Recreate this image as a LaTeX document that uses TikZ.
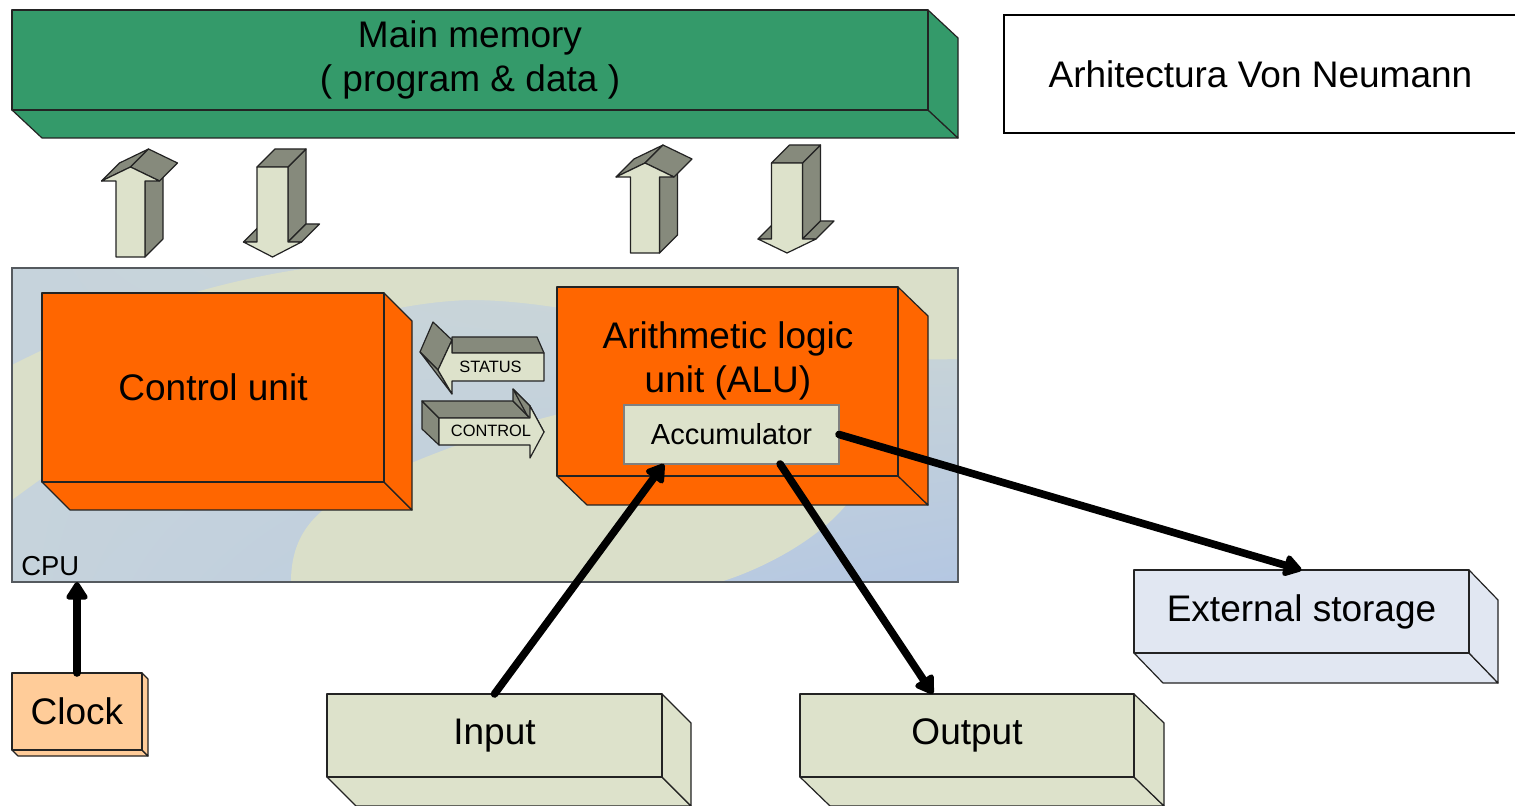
\documentclass[tikz,border=0pt]{standalone}
\usepackage{fontspec}
\setmainfont{Liberation Sans}
\usetikzlibrary{arrows.meta,calc,shadings}

\definecolor{memgreen}{RGB}{52,154,106}
\definecolor{unitorange}{RGB}{255,102,0}
\definecolor{paleolive}{RGB}{221,226,203}
\definecolor{shadegrey}{RGB}{134,138,124}
\definecolor{storeblue}{RGB}{225,231,242}
\definecolor{clockpeach}{RGB}{255,204,153}
\definecolor{cpublue}{RGB}{198,211,220}
\definecolor{cpucream}{RGB}{218,223,201}
\definecolor{cpudeep}{RGB}{180,199,226}
\definecolor{edgegrey}{RGB}{35,35,35}
\definecolor{framegrey}{RGB}{85,90,95}

\newcommand\mainlabelfont{\fontsize{18.5}{22}\selectfont}
\newcommand\accufont{\fontsize{14.5}{17}\selectfont}
\newcommand\tagfont{\fontsize{8.2}{10}\selectfont}
\newcommand\cpufont{\fontsize{13.7}{16}\selectfont}

\tikzset{
  face/.style={draw=edgegrey, line width=0.6pt, line join=round},
  bus/.style={line width=3.8pt, line cap=round,
    -{Triangle[length=10pt,width=12pt,round]}},
}

% a box drawn as a block: bottom face, right face, then the front face node
% #1 name, #2 x1, #3 y1, #4 x2, #5 y2, #6 dx, #7 dy, #8 fill, #9 text
\newcommand\solidblock[9]{%
  \filldraw[face, fill=#8] (#2,#5) -- ({#2+#6},{#5+#7}) -- ({#4+#6},{#5+#7}) -- (#4,#5) -- cycle;
  \filldraw[face, fill=#8] (#4,#3) -- ({#4+#6},{#3+#7}) -- ({#4+#6},{#5+#7}) -- (#4,#5) -- cycle;
  \pgfmathsetmacro\blockw{(#4-#2)*0.5}%
  \pgfmathsetmacro\blockh{(#5-#3)*0.5}%
  \node[face, fill=#8, anchor=north west, minimum width=\blockw pt,
        minimum height=\blockh pt, inner sep=0pt, outer sep=0pt,
        align=center, font=\mainlabelfont] (#1) at (#2,#3) {#9};
}

% upward block arrow: #1 centre x, #2 foot y, #3 head base y, #4 tip y
\newcommand\upblockarrow[4]{%
  \filldraw[face, fill=shadegrey] ({#1+14.5},#3) -- ({#1+14.5},#2) -- ({#1+32.5},{#2-18}) -- ({#1+32.5},{#3-18}) -- cycle;
  \filldraw[face, fill=shadegrey] ({#1-29},#3) -- ({#1-11},{#3-18}) -- ({#1+18},{#4-18}) -- (#1,#4) -- cycle;
  \filldraw[face, fill=shadegrey] (#1,#4) -- ({#1+18},{#4-18}) -- ({#1+47},{#3-18}) -- ({#1+29},#3) -- cycle;
  \filldraw[face, fill=paleolive] ({#1-14.5},#2) -- ({#1+14.5},#2) -- ({#1+14.5},#3) -- ({#1+29},#3)
     -- (#1,#4) -- ({#1-29},#3) -- ({#1-14.5},#3) -- cycle;
}

% downward block arrow: #1 centre x, #2 top y, #3 head base y, #4 tip y
\newcommand\downblockarrow[4]{%
  \filldraw[face, fill=shadegrey] ({#1+15.5},#2) -- ({#1+33.5},{#2-18}) -- ({#1+33.5},{#3-18}) -- ({#1+15.5},#3) -- cycle;
  \filldraw[face, fill=shadegrey] ({#1+15.5},#3) -- ({#1+29},#3) -- ({#1+47},{#3-18}) -- ({#1+33.5},{#3-18}) -- cycle;
  \filldraw[face, fill=shadegrey] ({#1-29},#3) -- ({#1-15.5},#3) -- ({#1+2.5},{#3-18}) -- ({#1-11},{#3-18}) -- cycle;
  \filldraw[face, fill=shadegrey] ({#1-15.5},#2) -- ({#1+2.5},{#2-18}) -- ({#1+33.5},{#2-18}) -- ({#1+15.5},#2) -- cycle;
  \filldraw[face, fill=paleolive] ({#1-15.5},#2) -- ({#1+15.5},#2) -- ({#1+15.5},#3) -- ({#1+29},#3)
     -- (#1,#4) -- ({#1-29},#3) -- ({#1-15.5},#3) -- cycle;
}

\begin{document}
\begin{tikzpicture}[x=0.5pt, y=-0.5pt]
\useasboundingbox (0,0) rectangle (1515,806);
\fill[white] (0,0) rectangle (1515,806);

% CPU backdrop with its soft two-tone pattern
\begin{scope}
  \clip (12,268) rectangle (958,582);
  \shade[upper left=cpublue, upper right=cpublue!60!cpucream,
         lower left=cpublue, lower right=cpudeep] (12,268) rectangle (958,582);
  \fill[cpucream] (12,365) .. controls (110,315) and (210,282) .. (309,268)
     -- (958,268) -- (958,359) .. controls (760,365) and (600,300) .. (470,300)
     .. controls (300,305) and (120,420) .. (12,500) -- cycle;
  \fill[cpucream] (291,582) .. controls (291,540) and (310,515) .. (345,495)
     .. controls (410,458) and (520,420) .. (600,405)
     .. controls (800,370) and (900,430) .. (850,500)
     .. controls (820,540) and (760,570) .. (720,582) -- cycle;
\end{scope}
\node[draw=framegrey, line width=0.8pt, anchor=north west, minimum width=473pt,
      minimum height=157pt, inner sep=0pt, outer sep=0pt] (cpu) at (12,268) {};
\node[font=\cpufont, anchor=base west, inner sep=0pt] (cpulabel) at (21,575) {CPU};

% processor parts
\solidblock{control}{42}{293}{384}{482}{28}{28}{unitorange}{Control unit}
\solidblock{alu}{557}{287}{898}{476}{30}{29}{unitorange}{}
\node[font=\mainlabelfont, align=center, inner sep=0pt] (alutitle) at (728,361)
  {Arithmetic logic\\unit (ALU)};
\node[draw=gray, line width=0.6pt, fill=paleolive, minimum width=107.5pt,
      minimum height=29.5pt, inner sep=0pt, outer sep=0pt, font=\accufont]
  (acc) at (731.5,434.5) {Accumulator};

% STATUS arrow (pointing left)
\filldraw[face, fill=shadegrey] (452,337) -- (537,337) -- (544,353) -- (452,353) -- cycle;
\filldraw[face, fill=shadegrey] (433,322) -- (452,340) -- (438,370) -- (420,352) -- cycle;
\filldraw[face, fill=shadegrey] (420,352) -- (438,370) -- (452,394) -- cycle;
\filldraw[face, fill=paleolive] (452,340) -- (452,353) -- (544,353) -- (544,381)
   -- (452,381) -- (452,394) -- (438,370) -- cycle;
\node[font=\tagfont, inner sep=0pt] (statustag) at (490.5,367) {STATUS};

% CONTROL arrow (pointing right)
\filldraw[face, fill=shadegrey] (422,401) -- (439,418) -- (439,445) -- (422,429) -- cycle;
\filldraw[face, fill=shadegrey] (422,401) -- (513,401) -- (530,418) -- (439,418) -- cycle;
\filldraw[face, fill=shadegrey] (513,389) -- (530,406) -- (530,418) -- (513,401) -- cycle;
\filldraw[face, fill=shadegrey] (513,389) -- (530,406) -- (544,432) -- (527,415) -- cycle;
\filldraw[face, fill=paleolive] (439,418) -- (530,418) -- (530,406) -- (544,432)
   -- (530,458) -- (530,445) -- (439,445) -- cycle;
\node[font=\tagfont, inner sep=0pt] (controltag) at (491,431) {CONTROL};

% memory and the buses to it
\solidblock{memory}{12}{10}{928}{110}{30}{28}{memgreen}{Main memory\\( program \& data )}
\upblockarrow{130.5}{257}{181}{167}
\downblockarrow{272.5}{167}{242}{257}
\upblockarrow{645}{253}{177}{163}
\downblockarrow{787}{163}{239}{253}

% heading
\node[draw=black, line width=0.6pt, fill=white, minimum width=256.5pt,
      minimum height=59pt, inner sep=0pt, font=\mainlabelfont]
  (heading) at (1260.5,74) {Arhitectura Von Neumann};

% peripherals
\solidblock{clock}{12}{673}{142}{750}{6}{6}{clockpeach}{Clock}
\solidblock{input}{327}{694}{662}{777}{29}{29}{paleolive}{Input}
\solidblock{output}{800}{694}{1134}{777}{30}{29}{paleolive}{Output}
\solidblock{storage}{1134}{570}{1469}{653}{29}{30}{storeblue}{External storage}

% data paths
\coordinate (accin) at ($(acc.south west)!0.186!(acc.south east)$);
\coordinate (accout) at ($(acc.south west)!0.726!(acc.south east)$);
\coordinate (outin) at ($(output.north west)!0.398!(output.north east)$);
\draw[bus] (clock.north) -- (clock.north |- cpu.south);
\draw[bus] (input.north) -- (accin);
\draw[bus] (accout) -- (outin);
\draw[bus] (acc.east) -- (storage.north);
\end{tikzpicture}
\end{document}
